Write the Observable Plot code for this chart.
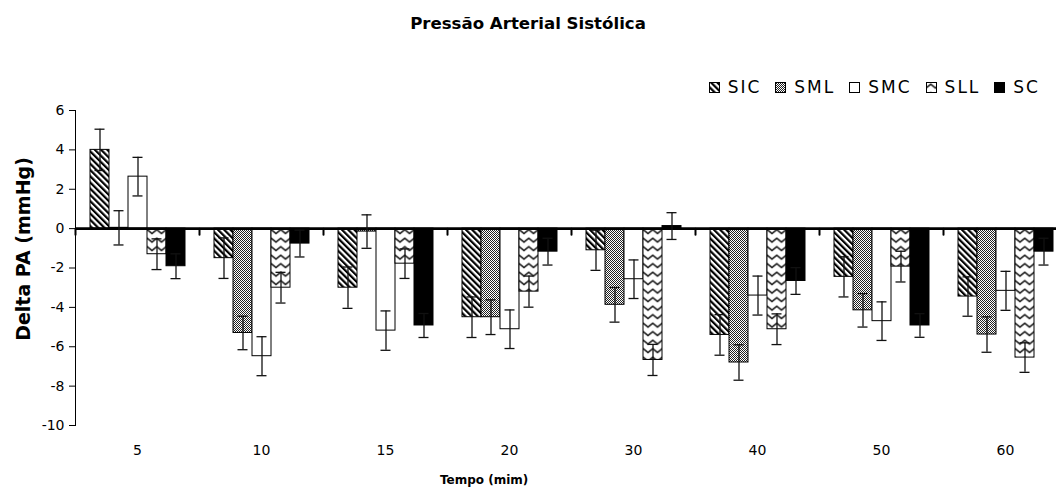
<!DOCTYPE html>
<html>
<head>
<meta charset="utf-8">
<script src="https://cdn.jsdelivr.net/npm/d3@7"></script>
<script src="https://cdn.jsdelivr.net/npm/@observablehq/plot@0.6"></script>
<style>
  html, body { margin: 0; padding: 0; background: #fff; overflow: hidden; }
  body { width: 1056px; height: 491px; position: relative; font-family: "DejaVu Sans", sans-serif; color: #000; }
  #head { position: relative; height: 100px; }
  #title { position: absolute; top: 14px; left: 0; width: 1056px; text-align: center; font-weight: bold; font-size: 16.6px; line-height: 20px; }
  #legend { position: absolute; top: 77px; right: 16px; display: flex; align-items: center; height: 20px; font-size: 17px; letter-spacing: 2px; }
  #legend .item { display: flex; align-items: center; margin-left: 14px; }
  #legend svg { margin-right: 8px; display: block; }
  #caption { height: 21px; position: relative; }
  #caption span { position: absolute; left: 440px; top: 3px; font-weight: bold; font-size: 12px; line-height: 14px; }
</style>
</head>
<body>
<svg width="0" height="0" style="position:absolute">
  <defs>
    <pattern id="pSIC" patternUnits="userSpaceOnUse" width="4.4" height="4.4" patternTransform="rotate(-45)">
      <rect width="4.4" height="4.4" fill="#fff"/>
      <rect width="2.2" height="4.4" fill="#000"/>
    </pattern>
    <pattern id="pSML" patternUnits="userSpaceOnUse" width="2" height="2">
      <rect width="2" height="2" fill="#fff"/>
      <rect width="1" height="1" fill="#222"/>
      <rect x="1" y="1" width="1" height="1" fill="#222"/>
    </pattern>
    <pattern id="pSMC" patternUnits="userSpaceOnUse" width="4" height="4">
      <rect width="4" height="4" fill="#fff"/>
    </pattern>
    <pattern id="pSLL" patternUnits="userSpaceOnUse" width="9.5" height="8.5">
      <rect width="9.5" height="8.5" fill="#fff"/>
      <path d="M-0.5,6.5 L4.75,2.2 L10,6.5" fill="none" stroke="#222" stroke-width="1.6"/>
    </pattern>
    <pattern id="pSC" patternUnits="userSpaceOnUse" width="4" height="4">
      <rect width="4" height="4" fill="#000"/>
    </pattern>
  </defs>
</svg>
<div id="head">
  <div id="title">Pressão Arterial Sistólica</div>
  <div id="legend"></div>
</div>
<div id="chart"></div>
<div id="caption"><span>Tempo (mim)</span></div>
<script>
// ---- data ----
const times = ["5", "10", "15", "20", "30", "40", "50", "60"];
const series = ["SIC", "SML", "SMC", "SLL", "SC"];
const yTicks = [-10, -8, -6, -4, -2, 0, 2, 4, 6];

const SIC = [4.0, -1.5, -3.0, -4.5, -1.1, -5.4, -2.45, -3.45];
const SML = [0.04, -5.3, -0.15, -4.5, -3.87, -6.8, -4.15, -5.38];
const SMC = [2.64, -6.48, -5.18, -5.11, -2.57, -3.4, -4.7, -3.16];
const SLL = [-1.3, -3.0, -1.78, -3.2, -6.67, -5.11, -1.93, -6.55];
const SC  = [-1.91, -0.76, -4.92, -1.17, 0.13, -2.66, -4.92, -1.17];

const SIC_err = [1.05, 1.03, 1.05, 1.03, 1.02, 1.03, 1.02, 1.0];
const SML_err = [0.87, 0.85, 0.85, 0.88, 0.88, 0.9, 0.85, 0.9];
const SMC_err = [0.98, 0.99, 1.0, 0.98, 0.98, 0.99, 0.98, 0.99];
const SLL_err = [0.78, 0.78, 0.75, 0.79, 0.79, 0.78, 0.78, 0.75];
const SC_err  = [0.63, 0.68, 0.61, 0.68, 0.68, 0.68, 0.6, 0.68];

const fills = ["url(#pSIC)", "url(#pSML)", "url(#pSMC)", "url(#pSLL)", "url(#pSC)"];

// ---- build table ----
const valuesBySeries = [SIC, SML, SMC, SLL, SC];
const errBySeries = [SIC_err, SML_err, SMC_err, SLL_err, SC_err];
const data = [];
series.forEach((s, si) => {
  times.forEach((t, ti) => {
    data.push({time: t, series: s, value: valuesBySeries[si][ti], err: errBySeries[si][ti]});
  });
});

// ---- legend ----
const legend = document.getElementById("legend");
series.forEach((s, i) => {
  const item = document.createElement("div");
  item.className = "item";
  item.innerHTML = `<svg width="11" height="11"><rect x="0.5" y="0.5" width="10" height="10" fill="${fills[i]}" stroke="#000" stroke-width="1"/></svg><span>${s}</span>`;
  legend.appendChild(item);
});

// ---- chart ----
const chart = Plot.plot({
  width: 1056,
  height: 370,
  marginLeft: 75,
  marginRight: -11,
  marginTop: 10,
  marginBottom: 45,
  style: {fontFamily: "DejaVu Sans, sans-serif", fontSize: "14px", color: "#000", background: "#fff"},
  fx: {domain: times, padding: 0, axis: "bottom", tickSize: 0, tickPadding: 20, label: null},
  x: {domain: series, paddingInner: 0, paddingOuter: 0.763, axis: null},
  y: {domain: [-10, 6], ticks: yTicks, tickSize: 6, tickPadding: 5, label: null, tickFormat: d => String(d)},
  color: {domain: series, range: fills},
  marks: [
    Plot.frame({anchor: "left", facet: "super", stroke: "#000", strokeWidth: 1}),
    Plot.barY(data, {fx: "time", x: "series", y: "value", fill: "series", stroke: "#000", strokeWidth: 1}),
    Plot.ruleY([0], {stroke: "#000", strokeWidth: 2.6}),
    Plot.vector([0], {
      y: d => d, frameAnchor: "left", length: 6, rotate: 180, anchor: "start",
      stroke: "#000", strokeWidth: 2,
      shape: {draw(context, l) { context.moveTo(0, 0); context.lineTo(0, -l); }}
    }),
    Plot.ruleX(data, {fx: "time", x: "series", y1: d => d.value - d.err, y2: d => d.value + d.err, stroke: "#111", strokeWidth: 1.3}),
    Plot.tickY(data, {fx: "time", x: "series", y: d => d.value - d.err, inset: 4.5, stroke: "#111", strokeWidth: 1.3}),
    Plot.tickY(data, {fx: "time", x: "series", y: d => d.value + d.err, inset: 4.5, stroke: "#111", strokeWidth: 1.3}),
    Plot.text(["Delta PA (mmHg)"], {
      facet: "super", frameAnchor: "left", textAnchor: "middle", rotate: -90, dx: -52, dy: -19,
      fontWeight: "bold", fontSize: 19, fill: "#000"
    })
  ]
});
document.getElementById("chart").appendChild(chart);
</script>
</body>
</html>
